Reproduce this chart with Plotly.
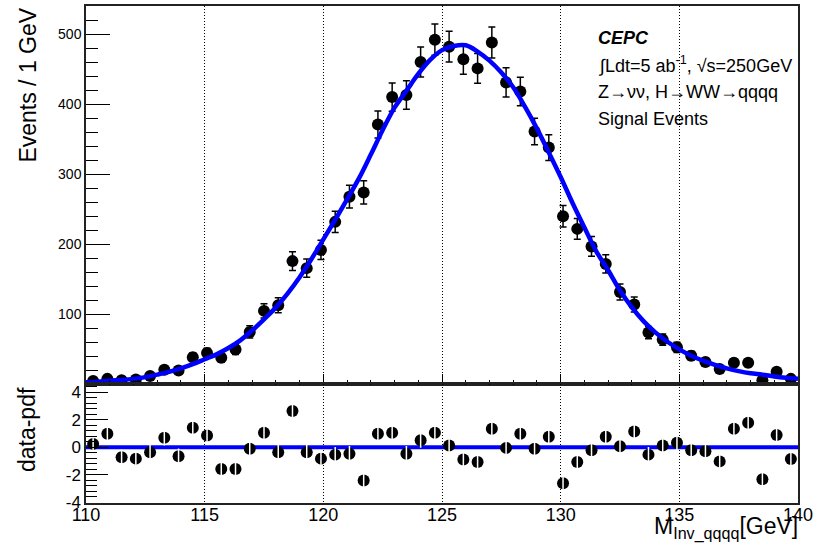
import numpy as np
import plotly.graph_objects as go

# ---- data ----
bin_centers = [round(110.3 + 0.6 * i, 2) for i in range(50)]
counts = [5, 8, 6, 7, 12, 21, 20, 39, 45, 38,
          50, 75, 105, 113, 176, 166, 192, 232, 268, 274,
          371, 410, 413, 460, 492, 482, 464, 451, 488, 431,
          418, 361, 338, 240, 222, 197, 172, 132, 114, 74,
          64, 53, 41, 32, 22, 31, 31, 6, 18, 8]
pulls = [0.24, 0.98, -0.73, -0.83, -0.37, 0.68, -0.66, 1.41, 0.85, -1.58,
         -1.58, -0.12, 1.05, -0.37, 2.63, -0.37, -0.83, -0.54, -0.47, -2.42,
         0.98, 1.05, -0.47, 0.51, 1.05, 0.12, -0.90, -1.07, 1.34, -0.05,
         0.98, -0.12, 0.75, -2.61, -1.07, -0.22, 0.75, 0.07, 1.13, -0.54,
         0.12, 0.32, -0.22, -0.30, -1.03, 1.34, 1.78, -2.32, 0.88, -0.85]
fit_x = [110, 110.5, 111, 111.5, 112, 112.5, 113, 113.5, 114, 114.5,
         115, 115.5, 116, 116.5, 117, 117.5, 118, 118.5, 119, 119.5,
         120, 120.5, 121, 121.5, 122, 122.5, 123, 123.5, 124, 124.5,
         125, 125.5, 126, 126.5, 127, 127.5, 128, 128.5, 129, 129.5,
         130, 130.5, 131, 131.5, 132, 132.5, 133, 133.5, 134, 134.5,
         135, 135.5, 136, 136.5, 137, 137.5, 138, 138.5, 139, 139.5, 140]
fit_y = [3, 4, 5.5, 6.5, 8, 10.5, 14, 18, 23, 29,
         36, 43, 52, 63, 77, 93, 110, 130, 153, 179,
         207, 235, 264, 294, 328, 363, 395, 419, 443, 463,
         477, 483, 484, 475, 462, 445, 424, 396, 365, 331,
         296, 259, 224, 190, 163, 134, 110, 90, 74, 61,
         50, 41, 34, 28, 23, 19, 16, 14, 11.5, 9.5, 8]
x_ticks = [110, 115, 120, 125, 130, 135, 140]
y_ticks_main = [100, 200, 300, 400, 500]
y_ticks_ratio = [-4, -2, 0, 2, 4]
y_ticktext_ratio = ["-4", "-2", "0", "2", "4"]

errors = np.sqrt(np.array(counts, dtype=float))

FONT = "Liberation Sans, Arial, sans-serif"
W, H = 817, 549
ML, MR, MT, MB = 86, 18, 4, 46
PW, PH = W - ML - MR, H - MT - MB
split = 119 / PH
DOT = "1px,2px"

fig = go.Figure()

# main panel: data with errors
fig.add_trace(go.Scatter(
    x=bin_centers, y=counts, mode="markers",
    marker=dict(color="black", size=12, symbol="circle"),
    error_y=dict(type="data", array=errors, color="black", thickness=1.5, width=3.5),
    xaxis="x", yaxis="y", showlegend=False))
# fit curve
fig.add_trace(go.Scatter(
    x=fit_x, y=fit_y, mode="lines", line=dict(color="#0000ff", width=4.5, shape="spline"),
    xaxis="x", yaxis="y", showlegend=False))

# ratio panel: zero line
fig.add_trace(go.Scatter(
    x=[x_ticks[0], x_ticks[-1]], y=[0, 0], mode="lines",
    line=dict(color="#0000ff", width=4), xaxis="x2", yaxis="y2", showlegend=False))
# pulls
fig.add_trace(go.Scatter(
    x=bin_centers, y=pulls, mode="markers",
    marker=dict(color="black", size=12, symbol="circle"),
    xaxis="x2", yaxis="y2", showlegend=False))
fig.add_trace(go.Scatter(
    x=bin_centers, y=pulls, mode="markers",
    marker=dict(color="white", size=11, symbol="line-ns", line=dict(color="white", width=1.5)),
    xaxis="x2", yaxis="y2", showlegend=False))

axis_common = dict(showline=True, linecolor="#222222", linewidth=1.5, mirror=True,
                   zeroline=False, ticks="inside", tickcolor="black")

fig.update_layout(
    width=W, height=H,
    margin=dict(l=ML, r=MR, t=MT, b=MB),
    paper_bgcolor="white", plot_bgcolor="white",
    font=dict(family=FONT, color="black"),
    xaxis=dict(domain=[0, 1], anchor="y", range=[110, 140], tickvals=x_ticks,
               showticklabels=False, ticklen=11, tickwidth=1,
               minor=dict(dtick=1, tick0=110, ticklen=5, ticks="inside", tickcolor="black", showgrid=False),
               showgrid=True, gridcolor="black", griddash=DOT, gridwidth=1,
               **axis_common),
    yaxis=dict(domain=[split, 1], anchor="x", range=[0, 540], tickvals=y_ticks_main,
               ticklen=24, tickwidth=1, showgrid=False,
               tickfont=dict(size=14, family=FONT),
               minor=dict(dtick=20, tick0=0, ticklen=12, ticks="inside", tickcolor="black"),
               **axis_common),
    xaxis2=dict(domain=[0, 1], anchor="y2", range=[110, 140], tickvals=x_ticks,
                matches="x", ticklen=0, showticklabels=True, ticklabelstandoff=-5,
                tickfont=dict(size=18, family=FONT),
                showgrid=True, gridcolor="black", griddash=DOT, gridwidth=1,
                **axis_common),
    yaxis2=dict(domain=[0, split], anchor="x2", range=[-4.05, 4.55],
                tickmode="array", tickvals=y_ticks_ratio, ticktext=y_ticktext_ratio,
                ticklen=22, tickwidth=1, showgrid=False,
                tickfont=dict(size=17, family=FONT),
                minor=dict(dtick=0.4, tick0=0, ticklen=11, ticks="inside", tickcolor="black"),
                **axis_common),
)

def px_x(px):
    return (px - ML) / PW

def px_y(py):
    return (MT + PH - py) / PH

annotations = [
    dict(text="Events / 1 GeV", textangle=-90, x=px_x(27), y=1.0, xanchor="center", yanchor="top",
         font=dict(size=23)),
    dict(text="data-pdf", textangle=-90, x=px_x(27), y=px_y(385), xanchor="center", yanchor="top",
         font=dict(size=23)),
    dict(text="M<sub>Inv_qqqq</sub>[GeV]", x=px_x(801), y=px_y(528), xanchor="right", yanchor="middle",
         font=dict(size=23)),
    dict(text="<b><i>CEPC</i></b>", x=px_x(597), y=px_y(36), xanchor="left", yanchor="middle",
         font=dict(size=18)),
    dict(text="∫Ldt=5 ab<sup>-1</sup>, √s=250GeV", x=px_x(597), y=px_y(63), xanchor="left", yanchor="middle",
         font=dict(size=18)),
    dict(text="Z→νν, H→WW→qqqq", x=px_x(597), y=px_y(90), xanchor="left", yanchor="middle",
         font=dict(size=18)),
    dict(text="Signal Events", x=px_x(597), y=px_y(117), xanchor="left", yanchor="middle",
         font=dict(size=18)),
]
for a in annotations:
    a.update(xref="paper", yref="paper", showarrow=False)
    a["font"]["family"] = FONT
    a["font"]["color"] = "black"
fig.update_layout(annotations=annotations)

fig.write_html("out.html")
